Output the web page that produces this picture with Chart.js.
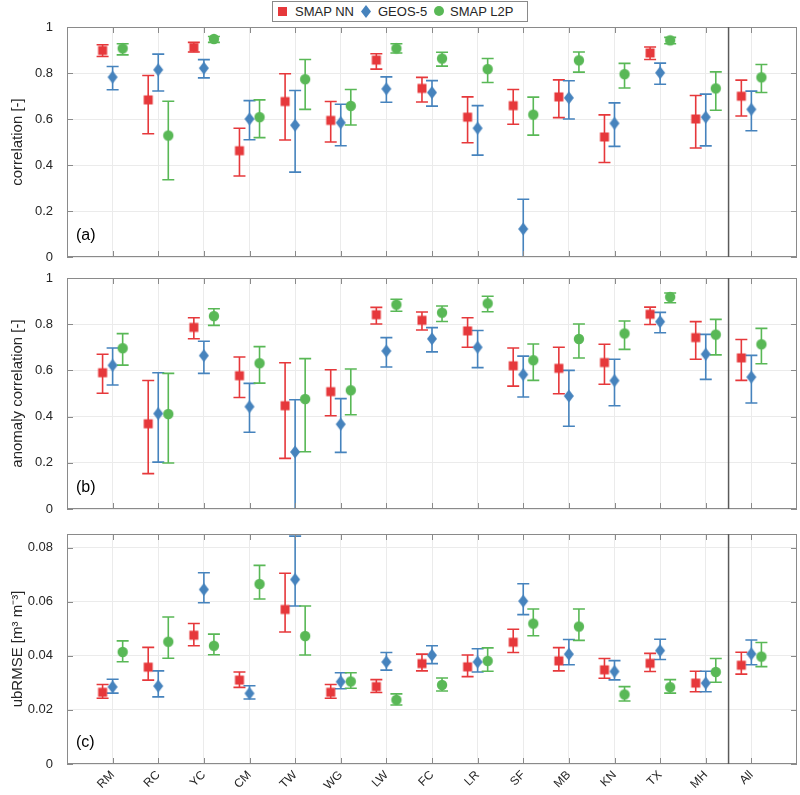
<!DOCTYPE html>
<html lang="en">
<head>
    <meta charset="UTF-8">
    <title>SMAP NN / GEOS-5 / SMAP L2P</title>
    <script src="https://cdn.jsdelivr.net/npm/chart.js@4"></script>
    <style>
        body {
            margin: 0;
            background: #fff;
            font-family: "Liberation Sans", Arial, sans-serif;
        }

        #wrap {
            position: relative;
            width: 800px;
            height: 795px;
        }

        #wrap canvas {
            position: absolute;
            left: 0;
        }

        /* leyenda en caja, arriba al centro */
        .legend {
            position: absolute;
            left: 272px;
            top: 1px;
            width: 254px;
            height: 19px;
            border: 1px solid #8a8a8a;
            background: #fff;
            font-size: 13px;
            color: #262626;
            z-index: 2;
        }

        .legend span {
            position: absolute;
            top: 2px;
        }

        .legend i {
            position: absolute;
            display: block;
        }
    </style>
</head>
<body>
<div id="wrap">
    <div class="legend">
        <i style="left:5px; top:5px; width:9px; height:9px; background:#e6383b"></i>
        <span style="left:22px">SMAP NN</span>
        <i style="left:88px; top:3px; width:10px; height:13px; background:#4683bd; clip-path:polygon(50% 0,100% 50%,50% 100%,0 50%)"></i>
        <span style="left:105px">GEOS-5</span>
        <i style="left:161px; top:4px; width:10px; height:10px; border-radius:50%; background:#59b856"></i>
        <span style="left:177px">SMAP L2P</span>
    </div>
    <canvas id="panelA" width="800" height="262" style="top:0"></canvas>
    <canvas id="panelB" width="800" height="252" style="top:262px"></canvas>
    <canvas id="panelC" width="800" height="281" style="top:514px"></canvas>
</div>

<script>
    // sitios (el último es el conjunto de todos)
    const categories = ["RM", "RC", "YC", "CM", "TW", "WG", "LW", "FC", "LR", "SF", "MB", "KN", "TX", "MH", "All"];

    // (a) correlation
    const corrNN    = [0.898, 0.683, 0.911, 0.462, 0.676, 0.594, 0.856, 0.733, 0.608, 0.658, 0.696, 0.522, 0.887, 0.600, 0.699];
    const corrNNLo  = [0.872, 0.536, 0.891, 0.352, 0.509, 0.500, 0.817, 0.674, 0.497, 0.577, 0.606, 0.411, 0.859, 0.474, 0.613];
    const corrNNHi  = [0.923, 0.789, 0.933, 0.560, 0.797, 0.676, 0.884, 0.781, 0.696, 0.728, 0.770, 0.618, 0.913, 0.702, 0.769];
    const corrGEOS   = [0.782, 0.814, 0.821, 0.600, 0.573, 0.584, 0.731, 0.715, 0.560, 0.122, 0.692, 0.581, 0.801, 0.608, 0.642];
    const corrGEOSLo = [0.727, 0.722, 0.779, 0.510, 0.369, 0.484, 0.673, 0.656, 0.443, -0.02, 0.600, 0.481, 0.751, 0.483, 0.549];
    const corrGEOSHi = [0.828, 0.882, 0.858, 0.680, 0.724, 0.664, 0.783, 0.767, 0.658, 0.251, 0.766, 0.670, 0.843, 0.708, 0.721];
    const corrL2P   = [0.907, 0.528, 0.948, 0.608, 0.773, 0.657, 0.907, 0.863, 0.817, 0.619, 0.855, 0.795, 0.942, 0.733, 0.781];
    const corrL2PLo = [0.879, 0.336, 0.933, 0.519, 0.642, 0.574, 0.887, 0.830, 0.759, 0.530, 0.804, 0.735, 0.927, 0.638, 0.715];
    const corrL2PHi = [0.927, 0.677, 0.959, 0.683, 0.859, 0.728, 0.927, 0.890, 0.863, 0.695, 0.891, 0.842, 0.955, 0.805, 0.837];

    // (b) anomaly correlation
    const anomNN    = [0.590, 0.369, 0.786, 0.577, 0.447, 0.508, 0.841, 0.817, 0.771, 0.620, 0.609, 0.634, 0.843, 0.742, 0.654];
    const anomNNLo  = [0.501, 0.153, 0.737, 0.483, 0.219, 0.404, 0.801, 0.775, 0.700, 0.532, 0.499, 0.540, 0.799, 0.648, 0.557];
    const anomNNHi  = [0.670, 0.556, 0.828, 0.658, 0.633, 0.603, 0.873, 0.853, 0.828, 0.697, 0.700, 0.713, 0.874, 0.811, 0.734];
    const anomGEOS   = [0.622, 0.413, 0.664, 0.443, 0.247, 0.367, 0.684, 0.737, 0.700, 0.582, 0.489, 0.556, 0.811, 0.670, 0.571];
    const anomGEOSLo = [0.537, 0.203, 0.587, 0.332, -0.03, 0.245, 0.615, 0.680, 0.612, 0.485, 0.358, 0.447, 0.763, 0.561, 0.459];
    const anomGEOSHi = [0.697, 0.590, 0.726, 0.544, 0.473, 0.478, 0.742, 0.785, 0.773, 0.662, 0.600, 0.648, 0.851, 0.756, 0.665];
    const anomL2P   = [0.696, 0.411, 0.835, 0.631, 0.476, 0.514, 0.885, 0.850, 0.890, 0.644, 0.736, 0.760, 0.918, 0.755, 0.713];
    const anomL2PLo = [0.623, 0.199, 0.795, 0.545, 0.248, 0.408, 0.856, 0.812, 0.854, 0.557, 0.654, 0.691, 0.893, 0.667, 0.629];
    const anomL2PHi = [0.759, 0.587, 0.867, 0.703, 0.651, 0.606, 0.908, 0.879, 0.921, 0.714, 0.801, 0.814, 0.935, 0.821, 0.782];

    // (c) ubRMSE
    const rmseNN    = [0.0265, 0.0358, 0.0476, 0.0310, 0.0571, 0.0265, 0.0286, 0.0371, 0.0359, 0.0450, 0.0381, 0.0348, 0.0372, 0.0299, 0.0365];
    const rmseNNLo  = [0.0243, 0.0310, 0.0437, 0.0283, 0.0488, 0.0243, 0.0264, 0.0344, 0.0323, 0.0412, 0.0344, 0.0317, 0.0342, 0.0267, 0.0332];
    const rmseNNHi  = [0.0294, 0.0431, 0.0519, 0.0340, 0.0705, 0.0294, 0.0312, 0.0406, 0.0403, 0.0498, 0.0430, 0.0390, 0.0409, 0.0343, 0.0413];
    const rmseGEOS   = [0.0285, 0.0288, 0.0645, 0.0261, 0.0682, 0.0304, 0.0377, 0.0402, 0.0377, 0.0602, 0.0406, 0.0342, 0.0419, 0.0299, 0.0407];
    const rmseGEOSLo = [0.0262, 0.0248, 0.0596, 0.0240, 0.0584, 0.0278, 0.0347, 0.0371, 0.0340, 0.0552, 0.0367, 0.0311, 0.0386, 0.0267, 0.0367];
    const rmseGEOSHi = [0.0313, 0.0344, 0.0707, 0.0289, 0.0842, 0.0337, 0.0412, 0.0437, 0.0426, 0.0666, 0.0460, 0.0382, 0.0461, 0.0343, 0.0458];
    const rmseL2P   = [0.0414, 0.0452, 0.0437, 0.0665, 0.0473, 0.0305, 0.0237, 0.0292, 0.0381, 0.0519, 0.0508, 0.0257, 0.0284, 0.0340, 0.0397];
    const rmseL2PLo = [0.0378, 0.0391, 0.0404, 0.0610, 0.0403, 0.0280, 0.0218, 0.0270, 0.0343, 0.0474, 0.0457, 0.0233, 0.0262, 0.0302, 0.0360];
    const rmseL2PHi = [0.0455, 0.0543, 0.0480, 0.0734, 0.0584, 0.0337, 0.0259, 0.0318, 0.0429, 0.0573, 0.0573, 0.0286, 0.0312, 0.0390, 0.0449];

    // ticks de los ejes y
    const corrTicks = [0, 0.2, 0.4, 0.6, 0.8, 1];
    const corrTickLabels = ["0", "0.2", "0.4", "0.6", "0.8", "1"];
    const rmseTicks = [0, 0.02, 0.04, 0.06, 0.08];
    const rmseTickLabels = ["0", "0.02", "0.04", "0.06", "0.08"];

    const RED = "#e6383b";
    const BLUE = "#4683bd";
    const GREEN = "#59b856";
    const FONT = "'Liberation Sans', Arial, sans-serif";
    const TEXT = "#262626";
    const AXIS = "#8a8a8a";

    // marcadores tipo MATLAB (cuadrado, diamante, círculo)
    function marcador(forma, color) {
        const c = document.createElement("canvas");
        c.width = 14;
        c.height = 14;
        const g = c.getContext("2d");
        g.fillStyle = color;
        if (forma === "square") {
            g.fillRect(2.5, 2.5, 9, 9);
        } else if (forma === "diamond") {
            g.beginPath();
            g.moveTo(7, 0.5);
            g.lineTo(12, 7);
            g.lineTo(7, 13.5);
            g.lineTo(2, 7);
            g.closePath();
            g.fill();
        } else {
            g.beginPath();
            g.arc(7, 7, 5.2, 0, Math.PI * 2);
            g.fill();
        }
        return c;
    }

    function serie(label, color, forma, offset, vals, lo, hi) {
        return {
            label: label,
            data: vals.map((v, i) => ({x: i + 1 + offset, y: v, lo: lo[i], hi: hi[i]})),
            borderColor: color,
            backgroundColor: color,
            pointStyle: marcador(forma, color),
            pointRadius: 7,
            showLine: false
        };
    }

    // barras de error, dibujadas debajo de los marcadores
    const errorBars = {
        id: "errorBars",
        beforeDatasetsDraw(chart) {
            const {ctx, chartArea, scales: {x, y}} = chart;
            ctx.save();
            ctx.beginPath();
            ctx.rect(chartArea.left, chartArea.top, chartArea.width, chartArea.height);
            ctx.clip();
            ctx.lineWidth = 1.6;
            chart.data.datasets.forEach(ds => {
                ctx.strokeStyle = ds.borderColor;
                ds.data.forEach(p => {
                    const px = x.getPixelForValue(p.x);
                    const yHi = y.getPixelForValue(p.hi);
                    const yLo = y.getPixelForValue(p.lo);
                    ctx.beginPath();
                    ctx.moveTo(px, yHi);
                    ctx.lineTo(px, yLo);
                    ctx.moveTo(px - 6, yHi);
                    ctx.lineTo(px + 6, yHi);
                    ctx.moveTo(px - 6, yLo);
                    ctx.lineTo(px + 6, yLo);
                    ctx.stroke();
                });
            });
            ctx.restore();
        }
    };

    // caja del eje con ticks hacia dentro, separador antes de "All" y letra del panel
    const marco = {
        id: "marco",
        afterDraw(chart, args, opts) {
            const {ctx, chartArea: a, scales: {x, y}} = chart;
            ctx.save();
            ctx.strokeStyle = AXIS;
            ctx.lineWidth = 1;
            ctx.strokeRect(a.left + 0.5, a.top + 0.5, a.width - 1, a.height - 1);

            ctx.beginPath();
            x.ticks.forEach(t => {
                const px = Math.round(x.getPixelForValue(t.value)) + 0.5;
                ctx.moveTo(px, a.bottom);
                ctx.lineTo(px, a.bottom - 6);
                ctx.moveTo(px, a.top);
                ctx.lineTo(px, a.top + 6);
            });
            y.ticks.forEach(t => {
                const py = Math.round(y.getPixelForValue(t.value)) + 0.5;
                ctx.moveTo(a.left, py);
                ctx.lineTo(a.left + 6, py);
                ctx.moveTo(a.right, py);
                ctx.lineTo(a.right - 6, py);
            });
            ctx.stroke();

            const sx = x.getPixelForValue(14.5);
            ctx.strokeStyle = "#5a5a5a";
            ctx.lineWidth = 1.5;
            ctx.beginPath();
            ctx.moveTo(sx, a.top);
            ctx.lineTo(sx, a.bottom);
            ctx.stroke();

            ctx.fillStyle = "#000";
            ctx.font = "16px " + FONT;
            ctx.textBaseline = "middle";
            ctx.fillText(opts.letra, a.left + 9, a.bottom - 21);
            ctx.restore();
        }
    };

    function crearPanel(id, cfg) {
        const ctx = document.getElementById(id).getContext("2d");
        return new Chart(ctx, {
            type: "scatter",
            data: {
                datasets: [
                    serie("SMAP NN", RED, "square", -0.22, cfg.nn[0], cfg.nn[1], cfg.nn[2]),
                    serie("GEOS-5", BLUE, "diamond", 0, cfg.geos[0], cfg.geos[1], cfg.geos[2]),
                    serie("SMAP L2P", GREEN, "circle", 0.22, cfg.l2p[0], cfg.l2p[1], cfg.l2p[2])
                ]
            },
            options: {
                responsive: false,
                animation: false,
                devicePixelRatio: 1,
                layout: {autoPadding: false, padding: {top: cfg.padTop, right: 3, left: 0, bottom: 0}},
                plugins: {
                    legend: {display: false},
                    tooltip: {enabled: false},
                    marco: {letra: cfg.letra}
                },
                scales: {
                    x: {
                        type: "linear",
                        min: 0,
                        max: 16,
                        afterBuildTicks: s => { s.ticks = categories.map((c, i) => ({value: i + 1})); },
                        afterFit: s => { s.height = cfg.xHeight; },
                        grid: {color: "#ebebeb", drawTicks: false},
                        border: {display: false},
                        ticks: {
                            display: cfg.xLabels,
                            callback: (v, i) => categories[i],
                            minRotation: 45,
                            maxRotation: 45,
                            padding: 4,
                            color: TEXT,
                            font: {family: FONT, size: 12}
                        }
                    },
                    y: {
                        min: 0,
                        max: cfg.yMax,
                        afterBuildTicks: s => { s.ticks = cfg.yTicks.map(v => ({value: v})); },
                        // ancho fijo del eje y sin relleno extra arriba/abajo
                        afterFit: s => {
                            s.width = 67;
                            s.paddingTop = 0;
                            s.paddingBottom = 0;
                        },
                        grid: {color: "#ebebeb", drawTicks: false},
                        border: {display: false},
                        ticks: {
                            callback: (v, i) => cfg.yLabels[i],
                            padding: 14,
                            color: TEXT,
                            font: {family: FONT, size: 13}
                        },
                        title: {
                            display: true,
                            text: cfg.titulo,
                            color: TEXT,
                            padding: {top: 9, bottom: 0},
                            font: {family: FONT, size: 15}
                        }
                    }
                }
            },
            plugins: [errorBars, marco]
        });
    }

    document.addEventListener("DOMContentLoaded", () => {
        crearPanel("panelA", {
            nn: [corrNN, corrNNLo, corrNNHi],
            geos: [corrGEOS, corrGEOSLo, corrGEOSHi],
            l2p: [corrL2P, corrL2PLo, corrL2PHi],
            yMax: 1, yTicks: corrTicks, yLabels: corrTickLabels,
            titulo: "correlation [-]", letra: "(a)",
            padTop: 27, xHeight: 5, xLabels: false
        });
        crearPanel("panelB", {
            nn: [anomNN, anomNNLo, anomNNHi],
            geos: [anomGEOS, anomGEOSLo, anomGEOSHi],
            l2p: [anomL2P, anomL2PLo, anomL2PHi],
            yMax: 1, yTicks: corrTicks, yLabels: corrTickLabels,
            titulo: "anomaly correlation [-]", letra: "(b)",
            padTop: 16, xHeight: 5, xLabels: false
        });
        crearPanel("panelC", {
            nn: [rmseNN, rmseNNLo, rmseNNHi],
            geos: [rmseGEOS, rmseGEOSLo, rmseGEOSHi],
            l2p: [rmseL2P, rmseL2PLo, rmseL2PHi],
            yMax: 0.085, yTicks: rmseTicks, yLabels: rmseTickLabels,
            titulo: "ubRMSE [m³ m⁻³]", letra: "(c)",
            padTop: 20, xHeight: 31, xLabels: true
        });
    });
</script>
</body>
</html>
